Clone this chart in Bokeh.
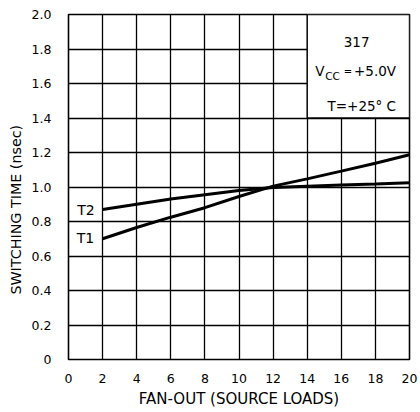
from bokeh.plotting import figure
from bokeh.models import Range1d, FixedTicker, Title
from bokeh.core.properties import value
from bokeh.embed import file_html
from bokeh.resources import INLINE

fanout = [2, 4, 6, 8, 10, 12, 14, 16, 18, 20]
t1 = [0.70, 0.765, 0.825, 0.88, 0.945, 1.005, 1.047, 1.092, 1.138, 1.187]
t2 = [0.87, 0.90, 0.93, 0.955, 0.98, 0.997, 1.005, 1.012, 1.018, 1.025]

x_ticks = [0, 2, 4, 6, 8, 10, 12, 14, 16, 18, 20]
y_ticks = [0, 0.2, 0.4, 0.6, 0.8, 1.0, 1.2, 1.4, 1.6, 1.8, 2.0]
y_tick_labels = ["0", "0.2", "0.4", "0.6", "0.8", "1.0", "1.2", "1.4", "1.6", "1.8", "2.0"]
x_tick_labels = [str(v) for v in x_ticks]

FONT = "DejaVu Sans"

p = figure(width=420, height=412, output_backend="svg", toolbar_location=None,
           x_range=Range1d(0, 20), y_range=Range1d(0, 2.0),
           min_border_left=67, min_border_right=11, min_border_top=14, min_border_bottom=53)
p.background_fill_color = "white"
p.border_fill_color = "white"
p.outline_line_color = "black"
p.outline_line_width = 1.6

for ax in (p.xaxis[0], p.yaxis[0]):
    ax.axis_line_color = None
    ax.major_tick_line_color = None
    ax.minor_tick_line_color = None
    ax.major_label_text_font = FONT
    ax.major_label_text_font_size = "12.5px"
    ax.major_label_text_color = "black"
    ax.axis_label_text_font = FONT
    ax.axis_label_text_font_style = "normal"
    ax.axis_label_text_color = "black"

p.xaxis.axis_label_text_font_size = "15px"
p.xaxis.ticker = FixedTicker(ticks=x_ticks)
p.yaxis.ticker = FixedTicker(ticks=y_ticks)
p.xaxis.major_label_overrides = {v: l for v, l in zip(x_ticks, x_tick_labels)}
p.yaxis.major_label_overrides = {v: l for v, l in zip(y_ticks, y_tick_labels)}
p.xaxis.major_label_standoff = 8
p.yaxis.major_label_standoff = 11
p.xaxis.axis_label = "FAN-OUT (SOURCE LOADS)"
p.xaxis.axis_label_standoff = 4

# y-axis title as a side title on the left (trailing no-break spaces re-centre it)
p.add_layout(Title(text="SWITCHING TIME (nsec)" + "\u00a0" * 10, align="center",
                   text_font=FONT, text_font_size="14.3px", text_font_style="normal",
                   text_color="black", standoff=10), "left")

p.xgrid.ticker = FixedTicker(ticks=x_ticks)
p.ygrid.ticker = FixedTicker(ticks=y_ticks)
for g in (p.xgrid[0], p.ygrid[0]):
    g.grid_line_color = "black"
    g.grid_line_width = 1.3
    g.grid_line_alpha = 1.0

# legend box covering grid
p.quad(left=[14], right=[20], bottom=[1.4], top=[2.0], fill_color="white",
       line_color="black", line_width=1.4)

p.line(fanout, t1, line_color="black", line_width=3)
p.line(fanout, t2, line_color="black", line_width=3)

p.text(x=[1.02], y=[0.866], text=["T2"], text_font=value(FONT), text_font_size="14px",
       text_align="center", text_baseline="middle", text_color="black")
p.text(x=[1.0], y=[0.707], text=["T1"], text_font=value(FONT), text_font_size="14px",
       text_align="center", text_baseline="middle", text_color="black")

p.text(x=[16.9], y=[1.838], text=["317"], text_font=value(FONT), text_font_size="13.5px",
       text_align="center", text_baseline="middle", text_color="black")
p.text(x=[14.47], y=[1.67], text=["V"], text_font=value(FONT), text_font_size="13.5px",
       text_align="left", text_baseline="middle", text_color="black")
p.text(x=[14.47], y=[1.67], text=["CC"], text_font=value(FONT), text_font_size="10.5px",
       text_align="left", text_baseline="middle", text_color="black", x_offset=10, y_offset=5)
p.text(x=[16.14], y=[1.67], text=["="], text_font=value(FONT), text_font_size="10px",
       text_align="left", text_baseline="middle", text_color="black")
p.text(x=[19.21], y=[1.67], text=["+5.0V"], text_font=value(FONT), text_font_size="13.5px",
       text_align="right", text_baseline="middle", text_color="black")
p.text(x=[19.21], y=[1.472], text=["T=+25° C"], text_font=value(FONT), text_font_size="13.5px",
       text_align="right", text_baseline="middle", text_color="black")

open("out.html", "w").write(file_html(p, INLINE))
